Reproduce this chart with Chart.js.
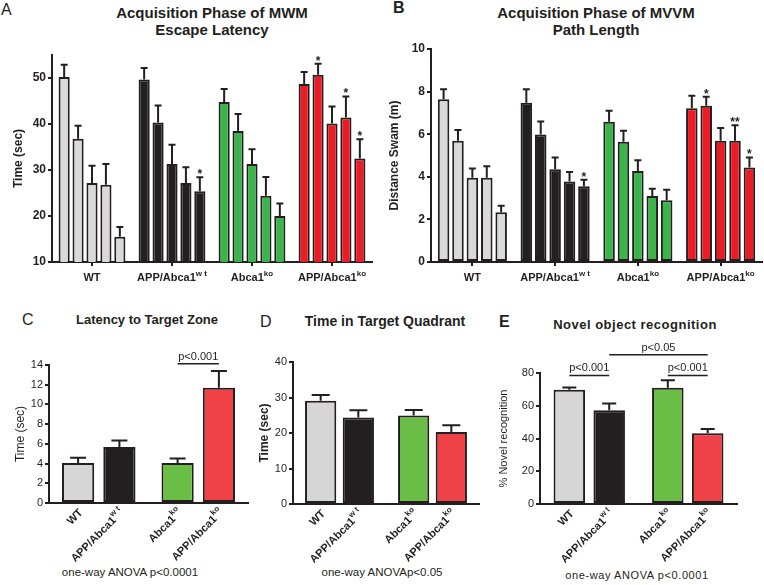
<!DOCTYPE html>
<html>
<head>
<meta charset="utf-8">
<script src="https://cdn.jsdelivr.net/npm/chart.js@4.4.1/dist/chart.umd.min.js"></script>
<style>
  body { margin: 0; background: #fff; width: 764px; height: 585px; position: relative; overflow: hidden;
         font-family: "Liberation Sans", Arial, "DejaVu Sans", sans-serif; color: #231f20; }
  canvas { position: absolute; }
  .txt { position: absolute; white-space: nowrap; transform: translateX(-50%); text-align: center; }
  .letter { position: absolute; font-size: 16px; line-height: 16px; }
  .title { font-weight: bold; font-size: 15px; line-height: 17px; }
  .sub { font-weight: bold; font-size: 13px; line-height: 15px; }
  .foot { font-size: 11.5px; line-height: 13px; }
</style>
</head>
<body>
<div class="letter" style="left:1px;top:2px">A</div>
<div class="letter" style="left:393px;top:0px;font-weight:bold">B</div>
<div class="letter" style="left:22px;top:312px">C</div>
<div class="letter" style="left:260px;top:314px">D</div>
<div class="letter" style="left:499px;top:314px;font-weight:bold">E</div>

<div class="txt title" style="left:212px;top:4px">Acquisition Phase of MWM<br>Escape Latency</div>
<div class="txt title" style="left:596px;top:4px">Acquisition Phase of MVVM<br>Path Length</div>
<div class="txt sub" style="left:147px;top:312px">Latency to Target Zone</div>
<div class="txt sub" style="left:385px;top:314px;font-size:14px">Time in Target Quadrant</div>
<div class="txt sub" style="left:635px;top:317px;letter-spacing:0.5px">Novel object recognition</div>

<div class="txt foot" style="left:130px;top:566px">one-way ANOVA p&lt;0.0001</div>
<div class="txt foot" style="left:382px;top:566px">one-way ANOVAp&lt;0.05</div>
<div class="txt foot" style="left:637px;top:569px;font-size:11px;letter-spacing:0.6px">one-way ANOVA p&lt;0.0001</div>

<canvas id="chartA" width="382" height="300" style="left:0;top:0"></canvas>
<canvas id="chartB" width="382" height="300" style="left:382px;top:0"></canvas>
<canvas id="chartC" width="255" height="285" style="left:0;top:300px"></canvas>
<canvas id="chartD" width="250" height="285" style="left:255px;top:300px"></canvas>
<canvas id="chartE" width="269" height="285" style="left:495px;top:300px"></canvas>

<script>
const INK = '#231f20';
const FONT = '"Liberation Sans", Arial, "DejaVu Sans", sans-serif';

// ---- datos ----
// etiquetas de grupo: [texto, superindice]
const groupLabels = [['WT', ''], ['APP/Abca1', 'w t'], ['Abca1', 'ko'], ['APP/Abca1', 'ko']];
const days = ['Day 1', 'Day 2', 'Day 3', 'Day 4', 'Day 5'];

// A: escape latency (sec), media y SEM por dia
const latencyWT     = [50.2, 36.8, 27.2, 26.8, 15.5];
const latencyAPPwt  = [49.7, 40.3, 31.3, 27.2, 25.4];
const latencyKO     = [44.8, 38.5, 31.3, 24.4, 20.0];
const latencyAPPko  = [48.7, 50.7, 40.1, 41.4, 32.5];
const latencySemWT    = [2.7, 2.8, 3.7, 4.5, 2.1];
const latencySemAPPwt = [2.5, 3.7, 4.2, 3.4, 3.0];
const latencySemKO    = [2.8, 3.7, 3.2, 4.1, 2.7];
const latencySemAPPko = [2.6, 2.4, 3.7, 4.6, 4.2];
const latencyStars = [['', '', '', '', ''], ['', '', '', '', '*'], ['', '', '', '', ''], ['', '*', '', '*', '*']];

// B: path length (m)
const pathWT     = [7.64, 5.69, 3.95, 3.95, 2.34];
const pathAPPwt  = [7.48, 5.99, 4.36, 3.78, 3.56];
const pathKO     = [6.59, 5.65, 4.27, 3.10, 2.90];
const pathAPPko  = [7.22, 7.34, 5.69, 5.69, 4.44];
const pathSemWT    = [0.47, 0.51, 0.44, 0.55, 0.30];
const pathSemAPPwt = [0.63, 0.61, 0.55, 0.44, 0.30];
const pathSemKO    = [0.51, 0.51, 0.51, 0.34, 0.49];
const pathSemAPPko = [0.59, 0.42, 0.60, 0.73, 0.47];
const pathStars = [['', '', '', '', ''], ['', '', '', '', '*'], ['', '', '', '', ''], ['', '*', '', '**', '*']];

// C, D, E: un valor por grupo (WT, APP/Abca1wt, Abca1ko, APP/Abca1ko)
const targetLatency    = [4.05, 5.67, 4.05, 11.7];
const targetLatencySem = [0.55, 0.67, 0.47, 1.7];
const quadrantTime     = [29.05, 24.4, 24.9, 20.3];
const quadrantTimeSem  = [1.65, 2.0, 1.6, 1.9];
const novelObject      = [69.8, 57.2, 71.0, 43.2];
const novelObjectSem   = [1.4, 4.1, 4.5, 2.6];

const colorsAB  = ['#d9d9d9', '#231f20', '#3ab54a', '#ed1c24'];
const colorsCDE = ['#d6d6d6', '#231f20', '#6abd45', '#ef4146'];

// ---- helpers ----
function drawSup(ctx, main, sup, x, y, align, size) {
  ctx.font = 'bold ' + size + 'px ' + FONT;
  const mw = ctx.measureText(main).width;
  ctx.font = 'bold ' + Math.round(size * 0.72) + 'px ' + FONT;
  const sw = sup ? ctx.measureText(sup).width : 0;
  let start = x;
  if (align === 'center') start = x - (mw + sw) / 2;
  if (align === 'right') start = x - (mw + sw);
  ctx.textAlign = 'left';
  ctx.font = 'bold ' + size + 'px ' + FONT;
  ctx.fillText(main, start, y);
  if (sup) {
    ctx.font = 'bold ' + Math.round(size * 0.72) + 'px ' + FONT;
    ctx.fillText(sup, start + mw, y - size * 0.45);
  }
}

// barras de error, asteriscos, etiquetas del eje x y corchetes de significancia
function extras(o) {
  return {
    id: 'extras',
    afterDraw(chart) {
      const ctx = chart.ctx, y = chart.scales.y, x = chart.scales.x, area = chart.chartArea;
      ctx.save();
      ctx.strokeStyle = INK;
      ctx.fillStyle = INK;
      ctx.lineWidth = 2;
      chart.data.datasets.forEach((ds, di) => {
        chart.getDatasetMeta(di).data.forEach((bar, i) => {
          const top = y.getPixelForValue(ds.data[i] + o.sem[di][i]);
          ctx.beginPath();
          ctx.moveTo(bar.x, bar.y);
          ctx.lineTo(bar.x, top);
          ctx.moveTo(bar.x - o.cap / 2, top);
          ctx.lineTo(bar.x + o.cap / 2, top);
          ctx.stroke();
          const star = o.stars ? o.stars[di][i] : '';
          if (star) {
            ctx.font = 'bold 12px ' + FONT;
            ctx.textAlign = 'center';
            ctx.textBaseline = 'alphabetic';
            ctx.fillText(star, bar.x, top + 1);
          }
        });
      });

      if (o.mode === 'category') {
        ctx.textBaseline = 'alphabetic';
        o.labels.forEach((l, i) => {
          drawSup(ctx, l[0], l[1], x.getPixelForValue(i), area.bottom + 19, 'center', 11);
        });
      } else {
        ctx.textBaseline = 'middle';
        chart.data.datasets.forEach((ds, di) => {
          chart.getDatasetMeta(di).data.forEach((bar, i) => {
            const l = o.labels[di][i];
            ctx.save();
            ctx.translate(bar.x + 3, area.bottom + 8);
            ctx.rotate(-Math.PI / 4);
            drawSup(ctx, l[0], l[1], 0, 0, 'right', 11);
            ctx.restore();
          });
        });
      }

      (o.brackets || []).forEach(b => {
        const p = chart.getDatasetMeta(b.from[0]).data[b.from[1]].x;
        const q = chart.getDatasetMeta(b.to[0]).data[b.to[1]].x;
        const yy = y.getPixelForValue(b.value);
        ctx.lineWidth = 1.5;
        ctx.beginPath();
        ctx.moveTo(p, yy);
        ctx.lineTo(q, yy);
        ctx.stroke();
        ctx.font = '11px ' + FONT;
        ctx.textAlign = 'center';
        ctx.textBaseline = 'alphabetic';
        ctx.fillText(b.text, (p + q) / 2, yy - 4);
      });
      ctx.restore();
    }
  };
}

function yAxis(min, max, step, width, tickFont, title, titleFont, titlePad) {
  return {
    min: min, max: max,
    ticks: { stepSize: step, includeBounds: false, font: tickFont, color: INK, padding: 2 },
    afterBuildTicks: s => { s.ticks = s.ticks.filter(t => Math.abs(t.value / step - Math.round(t.value / step)) < 1e-6); },
    grid: { drawOnChartArea: false, tickLength: 4, color: INK, lineWidth: 2 },
    border: { color: INK, width: 2 },
    title: { display: true, text: title, font: titleFont, color: INK, padding: { top: titlePad, bottom: 0 } },
    afterFit: s => { s.width = width; }
  };
}

function xAxis(height, showTicks) {
  return {
    offset: true,
    ticks: { display: false },
    grid: { display: showTicks, drawOnChartArea: false, offset: false, tickLength: 4, color: INK, lineWidth: 2 },
    border: { color: INK, width: 2 },
    afterFit: s => { s.height = height; }
  };
}

function baseOptions(padding, scales) {
  return {
    responsive: false,
    animation: false,
    devicePixelRatio: 1,
    layout: { padding: padding },
    plugins: { legend: { display: false }, tooltip: { enabled: false } },
    scales: scales
  };
}

// paneles A y B: cinco dias por grupo
function dayChart(id, series, sems, stars, yCfg, padding, xHeight) {
  const datasets = days.map((d, k) => ({
    label: d,
    data: series.map(s => s[k]),
    backgroundColor: colorsAB,
    borderColor: INK,
    borderWidth: 2,
    borderSkipped: false,
    categoryPercentage: 0.87,
    barPercentage: 0.8
  }));
  const sem = days.map((d, k) => sems.map(s => s[k]));
  const st = days.map((d, k) => stars.map(s => s[k]));
  new Chart(document.getElementById(id), {
    type: 'bar',
    data: { labels: groupLabels.map(l => l[0] + l[1]), datasets: datasets },
    options: baseOptions(padding, { x: xAxis(xHeight, true), y: yCfg }),
    plugins: [extras({ sem: sem, stars: st, cap: 7, mode: 'category', labels: groupLabels })]
  });
}

// paneles C, D y E: pares Abca1wt / Abca1ko, sin y con APP
function pairChart(id, values, sems, yCfg, padding, xHeight, cat, bar, cap, brackets) {
  const datasets = [0, 1].map(k => ({
    label: k ? 'APP' : 'control',
    data: [values[k], values[2 + k]],
    backgroundColor: [colorsCDE[k], colorsCDE[2 + k]],
    borderColor: INK,
    borderWidth: 2,
    borderSkipped: false,
    categoryPercentage: cat,
    barPercentage: bar
  }));
  const sem = [0, 1].map(k => [sems[k], sems[2 + k]]);
  const labels = [0, 1].map(k => [groupLabels[k], groupLabels[2 + k]]);
  new Chart(document.getElementById(id), {
    type: 'bar',
    data: { labels: ['Abca1 wt', 'Abca1 ko'], datasets: datasets },
    options: baseOptions(padding, { x: xAxis(xHeight, false), y: yCfg }),
    plugins: [extras({ sem: sem, cap: cap, mode: 'bars', labels: labels, brackets: brackets })]
  });
}

const boldTick = { family: FONT, size: 12, weight: 'bold' };
const plainTick = { family: FONT, size: 11 };

dayChart('chartA',
  [latencyWT, latencyAPPwt, latencyKO, latencyAPPko],
  [latencySemWT, latencySemAPPwt, latencySemKO, latencySemAPPko],
  latencyStars,
  yAxis(10, 55, 10, 52, boldTick, 'Time (sec)', { family: FONT, size: 12, weight: 'bold' }, 11),
  { top: 55, right: 10, bottom: 0, left: 0 }, 38);

dayChart('chartB',
  [pathWT, pathAPPwt, pathKO, pathAPPko],
  [pathSemWT, pathSemAPPwt, pathSemKO, pathSemAPPko],
  pathStars,
  yAxis(0, 10, 2, 49, boldTick, 'Distance Swam (m)', { family: FONT, size: 12, weight: 'bold' }, 5),
  { top: 49, right: 2, bottom: 0, left: 0 }, 38);

pairChart('chartC', targetLatency, targetLatencySem,
  yAxis(0, 14, 2, 49, plainTick, 'Time (sec)', { family: FONT, size: 12 }, 13),
  { top: 65, right: 7, bottom: 0, left: 0 }, 82, 0.83, 0.78, 16,
  [{ from: [0, 1], to: [1, 1], value: 14.13, text: 'p<0.001' }]);

pairChart('chartD', quadrantTime, quadrantTimeSem,
  yAxis(0, 40, 10, 38, { family: FONT, size: 11 }, 'Time (sec)', { family: FONT, size: 12, weight: 'bold' }, 2),
  { top: 62, right: 26, bottom: 0, left: 0 }, 81, 0.81, 0.83, 18);

pairChart('chartE', novelObject, novelObjectSem,
  yAxis(0, 80, 20, 45, { family: FONT, size: 11 }, '% Novel recognition', { family: FONT, size: 11 }, 2),
  { top: 73, right: 27, bottom: 0, left: 0 }, 81, 0.81, 0.79, 14,
  [{ from: [0, 0], to: [1, 0], value: 78.5, text: 'p<0.001' },
   { from: [1, 0], to: [1, 1], value: 91.2, text: 'p<0.05' },
   { from: [0, 1], to: [1, 1], value: 78.5, text: 'p<0.001' }]);
</script>
</body>
</html>
